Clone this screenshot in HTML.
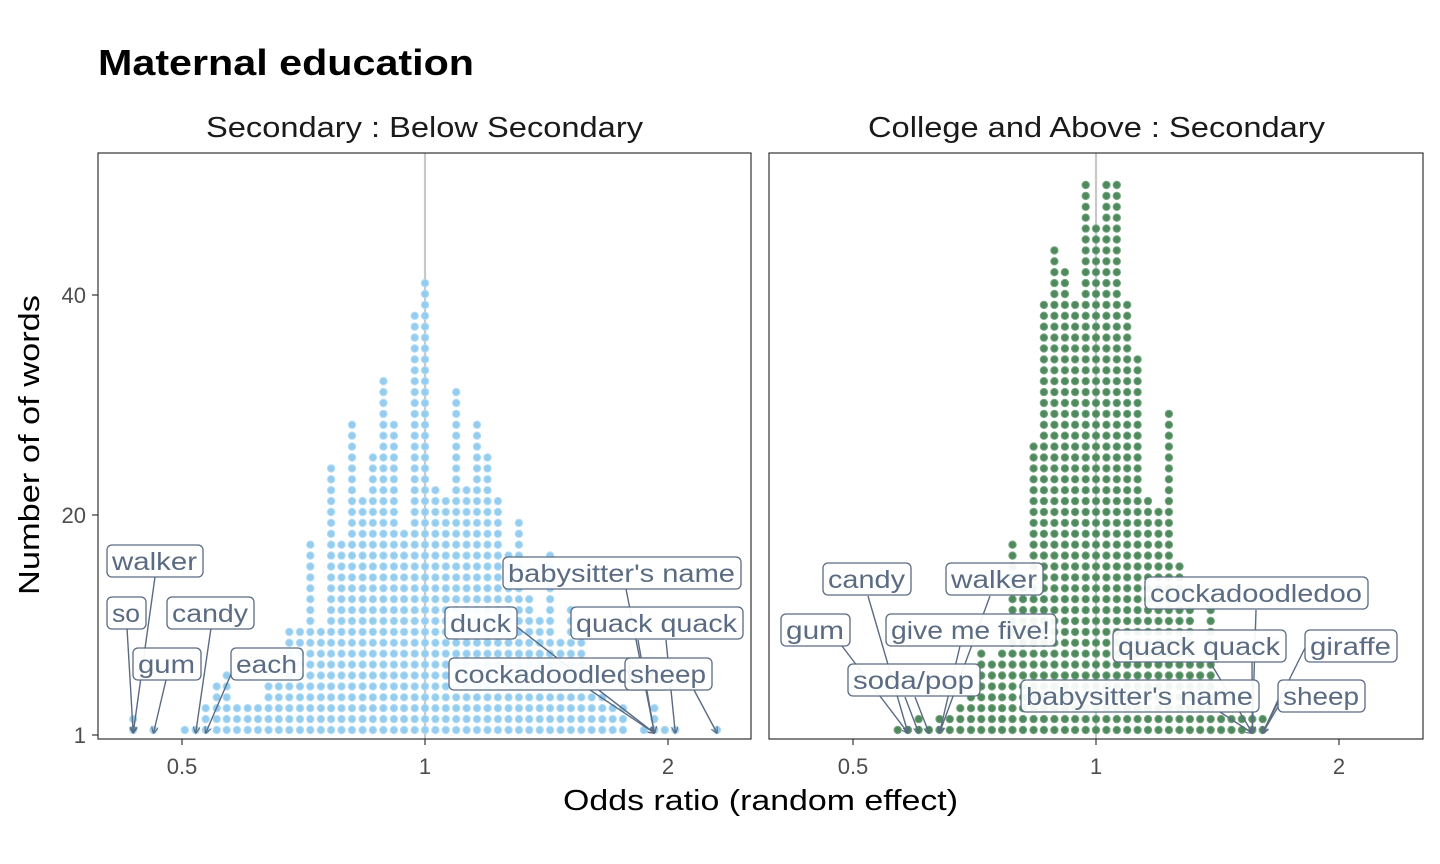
<!DOCTYPE html>
<html><head><meta charset="utf-8">
<style>
html,body{margin:0;padding:0;background:#fff;}
svg{display:block;font-family:"Liberation Sans",sans-serif;}
</style></head>
<body>
<svg id="chart" width="1440" height="864" viewBox="0 0 1440 864">
<defs>
<marker id="arr" viewBox="0 0 10 10" refX="9" refY="5" markerWidth="7" markerHeight="7" orient="auto-start-reverse" markerUnits="userSpaceOnUse">
<path d="M0,0 L10,5 L0,10" fill="none" stroke="#5a6b82" stroke-width="1.6"/>
</marker>
</defs>
<text x="98" y="75" font-size="36" font-weight="bold" fill="#000" textLength="376" lengthAdjust="spacingAndGlyphs">Maternal education</text>
<text x="206" y="137" font-size="29" fill="#1a1a1a" textLength="437" lengthAdjust="spacingAndGlyphs">Secondary : Below Secondary</text>
<text x="868" y="137" font-size="29" fill="#1a1a1a" textLength="457" lengthAdjust="spacingAndGlyphs">College and Above : Secondary</text>
<text x="563" y="810" font-size="29" fill="#000" textLength="395" lengthAdjust="spacingAndGlyphs">Odds ratio (random effect)</text>
<text transform="translate(39,595) rotate(-90)" font-size="29" fill="#000" textLength="300" lengthAdjust="spacingAndGlyphs">Number of of words</text>
<g id="plot"></g>
</svg>
<script>
// ---- data ----
const xTickVals = [0.5, 1, 2];
const xTickLabels = ["0.5", "1", "2"];
const yTickVals = [0, 20, 40];
const yTickLabels = ["1", "20", "40"];

const leftOR = [0.435,0.461,0.504,0.520,0.535,0.552,0.568,0.585,0.603,0.621,0.640,0.659,0.679,0.700,0.721,0.743,0.765,0.788,0.812,0.837,0.862,0.888,0.915,0.942,0.971,1.000,1.030,1.061,1.093,1.126,1.160,1.195,1.231,1.269,1.307,1.346,1.387,1.429,1.472,1.516,1.562,1.609,1.658,1.708,1.759,1.867,1.924,1.982,2.042,2.300];
const leftCount = [2,1,1,1,3,5,6,3,3,3,5,5,10,10,18,10,25,18,29,22,26,33,29,19,39,42,23,22,32,23,29,26,22,17,20,13,11,17,9,12,9,5,4,3,3,1,3,1,1,1];

const rightOR = [0.568,0.585,0.603,0.621,0.640,0.659,0.679,0.700,0.721,0.743,0.765,0.788,0.812,0.837,0.862,0.888,0.915,0.942,0.971,1.000,1.030,1.061,1.093,1.126,1.160,1.195,1.231,1.269,1.307,1.346,1.387,1.429,1.472,1.516,1.562,1.609];
const rightCount = [1,1,2,1,2,2,3,4,8,7,8,18,15,27,40,45,43,40,51,47,51,51,40,35,22,21,30,16,12,7,12,2,2,2,2,2];

// labels: [text, box-x, box-y(top), box-width, [[fromX,fromY,toOR]...]]
const leftLabels = [
 ["walker",107,545,96,[[155,577,0.435]]],
 ["so",107,597,39,[[127,628,0.435]]],
 ["candy",167,597,87,[[211,628,0.520]]],
 ["gum",133,648,68,[[166,680,0.461]]],
 ["each",231,648,72,[[232,672,0.535]]],
 ["babysitter's name",503,557,238,[[626,589,1.924]]],
 ["duck",445,607,72,[[517,627,1.924]]],
 ["quack quack",571,607,172,[[638,640,1.924],[666,640,2.042]]],
 ["cockadoodledoo",449,658,222,[[590,690,1.924]]],
 ["sheep",625,658,87,[[694,690,2.300]]]
];
const rightLabels = [
 ["candy",823,563,88,[[868,596,0.585]]],
 ["walker",946,563,97,[[990,596,0.640]]],
 ["gum",781,614,69,[[842,646,0.585]]],
 ["give me five!",886,614,170,[[960,646,0.640]]],
 ["soda/pop",848,664,132,[[905,697,0.603],[915,697,0.621]]],
 ["cockadoodledoo",1145,577,223,[[1256,610,1.562]]],
 ["quack quack",1113,630,173,[[1210,662,1.562],[1252,662,1.562]]],
 ["giraffe",1305,630,92,[[1305,648,1.609]]],
 ["babysitter's name",1021,680,238,[[1220,712,1.562]]],
 ["sheep",1278,680,87,[[1278,700,1.609],[1282,700,1.609]]]
];

// ---- scales ----
const PX_PER_LOG2 = 243;
function xScale(center, v){ return center + Math.log2(v) * PX_PER_LOG2; }
function yScale(v){ return 735 - v * 11; }
function dotY(k){ return 730 - (k - 1) * 10.9; }

const NS = "http://www.w3.org/2000/svg";
const plot = document.getElementById('plot');
function mk(tag, attrs, parent){
  const e = document.createElementNS(NS, tag);
  for (const k in attrs) e.setAttribute(k, attrs[k]);
  (parent || plot).appendChild(e);
  return e;
}

const panels = [
 {name:"left", x0:98, x1:751, center:425, or:leftOR, cnt:leftCount, fill:"#94cdf0", stroke:"#b3dcf5", labels:leftLabels},
 {name:"right", x0:769, x1:1423, center:1096, or:rightOR, cnt:rightCount, fill:"#4e8a5b", stroke:"#79a884", labels:rightLabels}
];

panels.forEach(p => {
  const g = mk('g', {});
  
  
  const rl = mk('line', {x1:p.center, x2:p.center, y1:153, y2:739, stroke:"#c8c8c8", "stroke-width":2.2}, g);
  
  
  const dg = mk('g', {}, g);
  
  
  p.or.forEach((v, i) => {
    const cx = xScale(p.center, v);
    for (let k = 1; k <= p.cnt[i]; k++) {
      const c = mk('circle', {cx:cx.toFixed(1), cy:dotY(k).toFixed(1), r:3.7, fill:p.fill, stroke:p.stroke, "stroke-width":1}, dg);
      
      
    }
  });
  const b = mk('rect', {x:p.x0, y:153, width:p.x1-p.x0, height:586, fill:"none", stroke:"#333", "stroke-width":1.2}, g);
  
  
  xTickVals.forEach((v, i) => {
    const x = xScale(p.center, v);
    const t = mk('line', {x1:x, x2:x, y1:739, y2:745, stroke:"#333", "stroke-width":1.2}, g);
    
    
    const tl = mk('text', {x:x, y:774, "font-size":22, "text-anchor":"middle", fill:"#4d4d4d"}, g);
    tl.textContent = xTickLabels[i];
    
    
  });
  p.labels.forEach(L => {
    const lg = mk('g', {}, g);
    
    
    L[4].forEach(s => {
      const ln = mk('line', {x1:s[0], y1:s[1], x2:xScale(p.center, s[2]).toFixed(1), y2:733, stroke:"#5a6b82", "stroke-width":1.4, "marker-end":"url(#arr)"}, lg);
      
      
    });
  });
  p.labels.forEach(L => {
    const lg = mk('g', {}, g);
    
    
    mk('rect', {x:L[1], y:L[2], width:L[3], height:32, rx:5, fill:"#fff", "fill-opacity":0.93, stroke:"#5a6b82", "stroke-width":1.3}, lg);
    const t = mk('text', {x:L[1]+5, y:L[2]+25, "font-size":25, fill:"#5a6b82", textLength:L[3]-11, lengthAdjust:"spacingAndGlyphs"}, lg);
    t.textContent = L[0];
  });
});

yTickVals.forEach((v, i) => {
  const y = yScale(v);
  const t = mk('line', {x1:92, x2:98, y1:y, y2:y, stroke:"#333", "stroke-width":1.2});
  
  
  const tl = mk('text', {x:86, y:y+8, "font-size":22, "text-anchor":"end", fill:"#4d4d4d"});
  tl.textContent = yTickLabels[i];
  
  
});
</script>
</body></html>
